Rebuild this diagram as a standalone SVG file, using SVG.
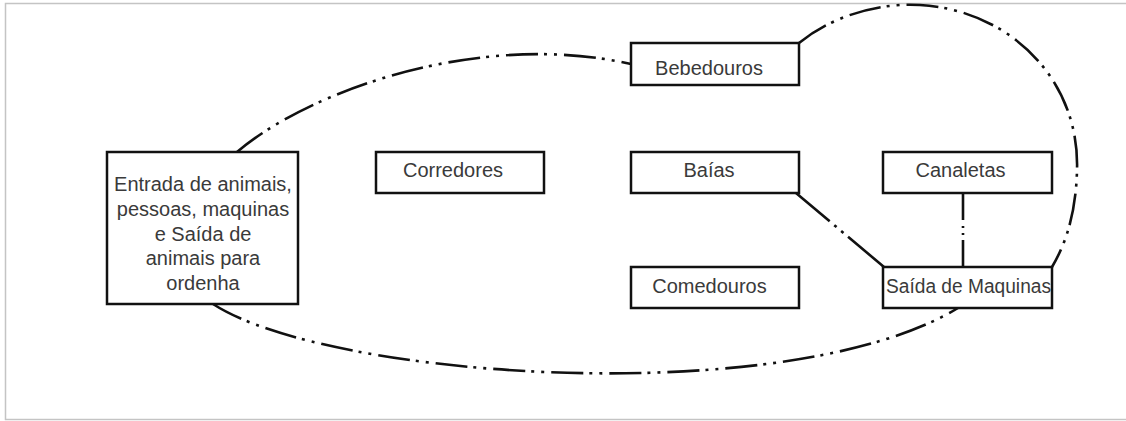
<svg xmlns="http://www.w3.org/2000/svg" width="1126" height="421" viewBox="0 0 1126 421">
<style>
.box{fill:#fff;stroke:#111;stroke-width:2.5}
.t{font-family:"Liberation Sans",Arial,sans-serif;font-size:20px;fill:#3a3a3a;text-anchor:middle}
.c{fill:none;stroke:#111;stroke-width:2.6;stroke-dasharray:32 6 3 7 3 7}
</style>
<rect x="5.5" y="3.5" width="1140" height="416" fill="#fff" stroke="#c4c4c4" stroke-width="1.5"/>
<g id="connectors">
<path class="c" d="M237,152 C310,90 480,30 631,64"/>
<path class="c" d="M799,43 C840,10 890,3 920,5 C1010,10 1080,80 1077,170 C1076,215 1065,245 1052,267"/>
<path class="c" d="M213,304 C330,380 790,410 958,308"/>
<path class="c" style="stroke-dasharray:44 6 3 6 3 6 60" d="M796,193 L884,267"/>
<path class="c" style="stroke-dasharray:27 6 2 5 2 5 40" d="M963,193 L963,267"/>
</g>
<g id="entrada">
<rect class="box" x="107" y="152" width="191" height="152"/>
<text class="t" x="203" y="191">Entrada de animais,</text>
<text class="t" x="203" y="215.5">pessoas, maquinas</text>
<text class="t" x="203" y="240.5">e Saída de</text>
<text class="t" x="203" y="265">animais para</text>
<text class="t" x="203" y="289.5">ordenha</text>
</g>
<g id="corredores">
<rect class="box" x="376" y="152" width="168" height="41"/>
<text class="t" x="453" y="177">Corredores</text>
</g>
<g id="bebedouros">
<rect class="box" x="631" y="43" width="168" height="42"/>
<text class="t" x="709" y="75">Bebedouros</text>
</g>
<g id="baias">
<rect class="box" x="631" y="152" width="168" height="41"/>
<text class="t" x="709" y="177">Baías</text>
</g>
<g id="comedouros">
<rect class="box" x="631" y="267" width="168" height="41"/>
<text class="t" x="709.5" y="293">Comedouros</text>
</g>
<g id="canaletas">
<rect class="box" x="883" y="152" width="169" height="41"/>
<text class="t" x="960.5" y="177">Canaletas</text>
</g>
<g id="saida">
<rect class="box" x="883" y="267" width="169" height="41"/>
<text class="t" x="968.5" y="293" textLength="165" lengthAdjust="spacingAndGlyphs">Saída de Maquinas</text>
</g>
</svg>
